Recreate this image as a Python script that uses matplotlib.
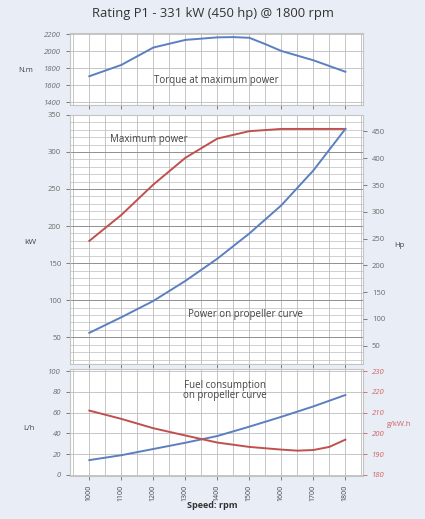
import numpy as np
from matplotlib import pyplot as plt
from matplotlib.ticker import MultipleLocator

plt.rcParams['font.family'] = ['Open Sans', 'DejaVu Sans']

# engine speed (rpm)
rpm = [1000, 1100, 1200, 1300, 1400, 1500, 1600, 1700, 1800]

# torque at maximum power (N.m)
torque_rpm = [1000, 1100, 1200, 1300, 1400, 1450, 1500, 1550, 1600, 1700, 1800]
torque = [1707, 1840, 2045, 2135, 2165, 2168, 2160, 2085, 2005, 1895, 1760]

# power (kW)
max_power = [180, 215, 256, 292, 318, 328, 331, 331, 331]
prop_power = [56, 77, 99, 126, 156, 190, 228, 275, 331]

# fuel consumption on propeller curve
fuel_lh = [14.3, 19, 25, 31, 37.5, 46.5, 56, 66, 77]
sfc_rpm = [1000, 1100, 1200, 1300, 1400, 1500, 1600, 1650, 1700, 1750, 1800]
sfc = [211, 207, 202.5, 199, 195.6, 193.5, 192.2, 191.7, 192, 193.5, 197]

BG = '#e9eef6'
BLUE = '#5b7fc0'
RED = '#c0504d'
TICK = '#6a6a6a'
GRID_MIN = '#bdbdbd'
GRID_MAJ = '#8f8f8f'

fig = plt.figure(figsize=(4.25, 5.19), dpi=100, facecolor=BG)

x0, w = 0.165, 0.689
ax_t = fig.add_axes([x0, 0.798, w, 0.139])
ax_m = fig.add_axes([x0, 0.2987, w, 0.48])
ax_b = fig.add_axes([x0, 0.0829, w, 0.206])


def style(ax):
    ax.set_facecolor('white')
    ax.set_xlim(940, 1855)
    for s in ax.spines.values():
        s.set_color('#c4c4c4')
        s.set_linewidth(0.8)
    ax.xaxis.set_major_locator(MultipleLocator(100))
    ax.xaxis.set_minor_locator(MultipleLocator(50))
    ax.grid(which='both', axis='x', color=GRID_MIN, linewidth=0.6)
    ax.tick_params(axis='both', labelsize=5.5, colors=TICK, length=3, width=0.6)
    ax.tick_params(axis='x', which='minor', length=0)
    ax.set_axisbelow(True)


# --- torque panel ---
style(ax_t)
ax_t.plot(torque_rpm, torque, color=BLUE, linewidth=1.4)
ax_t.set_ylim(1370, 2220)
ax_t.set_yticks(np.arange(1400, 2201, 200))
ax_t.grid(axis='y', color=GRID_MIN, linewidth=0.6)
ax_t.tick_params(axis='x', labelbottom=False)
for lab in ax_t.get_yticklabels():
    lab.set_fontstyle('italic')
ax_t.text(0.5, 0.34, 'Torque at maximum power', transform=ax_t.transAxes,
          ha='center', va='center', fontsize=7, color='#444444')
fig.text(0.06, 1 - 70 / 519, 'N.m', fontsize=5.5, color='#444444', ha='center', va='center')

# --- power panel ---
style(ax_m)
ax_m.plot(rpm, max_power, color=RED, linewidth=1.4)
ax_m.plot(rpm, prop_power, color=BLUE, linewidth=1.4)
ax_m.set_ylim(14, 350)
ax_m.yaxis.set_major_locator(MultipleLocator(50))
ax_m.yaxis.set_minor_locator(MultipleLocator(10))
ax_m.grid(which='major', axis='y', color=GRID_MAJ, linewidth=0.7)
ax_m.grid(which='minor', axis='y', color=GRID_MIN, linewidth=0.5)
ax_m.tick_params(axis='y', which='minor', length=0)
ax_m.tick_params(axis='x', labelbottom=False)
ax_m.set_yticks([50, 100, 150, 200, 250, 300, 350])
ax_m.text(0.27, 0.9, 'Maximum power', transform=ax_m.transAxes,
          ha='center', va='center', fontsize=7, color='#444444')
ax_m.text(0.60, 0.197, 'Power on propeller curve', transform=ax_m.transAxes,
          ha='center', va='center', fontsize=7, color='#444444')
fig.text(0.072, 1 - 243 / 519, 'kW', fontsize=6, color='#444444', ha='center', va='center')

ax_hp = ax_m.twinx()
ax_hp.set_ylim(16, 481)
ax_hp.set_yticks(np.arange(50, 451, 50))
ax_hp.tick_params(axis='y', labelsize=5.5, colors=TICK, length=3, width=0.6)
for s in ax_hp.spines.values():
    s.set_visible(False)
fig.text(0.94, 1 - 245 / 519, 'Hp', fontsize=5.5, color='#444444', ha='center', va='center')

# --- fuel panel ---
style(ax_b)
ax_b.plot(rpm, fuel_lh, color=BLUE, linewidth=1.4)
ax_b.set_ylim(-1, 102)
ax_b.set_yticks(np.arange(0, 101, 20))
ax_b.grid(axis='y', color=GRID_MIN, linewidth=0.6)
for lab in ax_b.get_yticklabels():
    lab.set_fontstyle('italic')
ax_b.set_xticks(rpm)
ax_b.set_xticklabels([str(r) for r in rpm], rotation=90, fontsize=5, color='#444444')
ax_b.text(0.53, 0.8, 'Fuel consumption\non propeller curve', transform=ax_b.transAxes,
          ha='center', va='center', fontsize=7, color='#444444', linespacing=0.95)
fig.text(0.067, 1 - 428 / 519, 'L/h', fontsize=5.5, color='#444444', ha='center', va='center')

ax_g = ax_b.twinx()
ax_g.plot(sfc_rpm, sfc, color=RED, linewidth=1.4)
ax_g.set_ylim(179.5, 231)
ax_g.set_yticks(np.arange(180, 231, 10))
ax_g.tick_params(axis='y', labelsize=5.5, colors='#d06060', length=3, width=0.6)
for lab in ax_g.get_yticklabels():
    lab.set_fontstyle('italic')
for s in ax_g.spines.values():
    s.set_visible(False)
fig.text(0.91, 1 - 425 / 519, 'g/kW.h', fontsize=5.5, color='#d06060', ha='left', va='center')

fig.text(0.5, 1 - 13 / 519, 'Rating P1 - 331 kW (450 hp) @ 1800 rpm', fontsize=9.4,
         color='#333333', ha='center', va='center')
fig.text(0.5, 1 - 506 / 519, 'Speed: rpm', fontsize=6.5, fontweight='bold',
         color='#333333', ha='center', va='center')

fig.savefig('out.png', dpi=100, facecolor=BG)
